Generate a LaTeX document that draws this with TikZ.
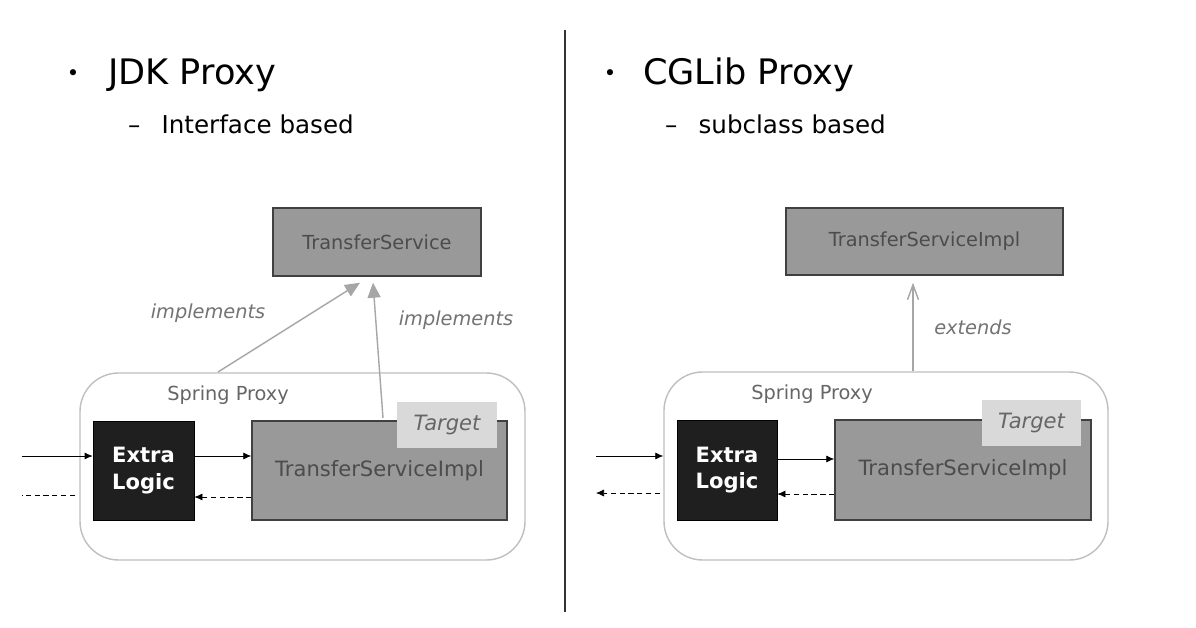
\documentclass[tikz,border=0pt]{standalone}
\usepackage{fontspec}
\setmainfont{DejaVu Sans}
\usetikzlibrary{arrows.meta}
\tikzstyle{classBox}=[draw=black!75, fill=black!40, thick, text=black!70, inner sep=0pt]
\tikzstyle{logicBox}=[draw=black, fill=black!88, text=white, inner sep=0pt, align=center, font=\bfseries\fontsize{12}{15}\selectfont]
\tikzstyle{proxyBox}=[draw=black!25, thick, rounded corners=22pt]
\tikzstyle{callFlow}=[thin, -{Latex[length=1.6mm,width=1.4mm]}]
\tikzstyle{returnFlow}=[thin, densely dashed, -{Latex[length=1.6mm,width=1.4mm]}]
\tikzstyle{umlFlow}=[black!35, thick, -{Triangle[open, length=3mm, width=2.6mm, fill=black!35]}]
\tikzstyle{umlOpen}=[black!35, thick, -{Straight Barb[length=3mm, width=2.2mm]}]
\tikzstyle{relLabel}=[text=black!55, font=\itshape\fontsize{11}{13}\selectfont]

\begin{document}
\begin{tikzpicture}[x=0.02cm, y=-0.02cm, font=\fontsize{11}{13}\selectfont]
  \useasboundingbox (0,0) rectangle (1196,628);
  \fill[white] (0,0) rectangle (1196,628);

  % Headings
  \node (jdkbullet) at (73,75) {\fontsize{12}{14}\selectfont\textbullet};
  \node [anchor=west, font=\fontsize{20}{24}\selectfont] (jdktitle) at (102,75) {JDK Proxy};
  \node [anchor=west, font=\fontsize{14}{17}\selectfont] (jdksub) at (122,124) {–\hspace{12pt}Interface based};
  \node (cglibbullet) at (610,75) {\fontsize{12}{14}\selectfont\textbullet};
  \node [anchor=west, font=\fontsize{20}{24}\selectfont] (cglibtitle) at (637,75) {CGLib Proxy};
  \node [anchor=west, font=\fontsize{14}{17}\selectfont] (cglibsub) at (659,124) {–\hspace{12pt}subclass based};

  \coordinate (divtop) at (565,30);
  \coordinate (divbot) at (565,612);
  \draw [black!80, thick] (divtop) -- (divbot);

  % JDK side
  \node [classBox, minimum width=208*0.02cm, minimum height=68*0.02cm] (iface) at (377,242) {TransferService};
  \node [proxyBox, minimum width=445*0.02cm, minimum height=187*0.02cm] (jdkproxy) at (302.5,466.5) {};
  \node [text=black!60] (jdkproxytext) at (228,395) {Spring Proxy};
  \node [logicBox, minimum width=101*0.02cm, minimum height=99*0.02cm] (jdklogic) at (143.5,470.5) {Extra\\Logic};
  \node [classBox, minimum width=255*0.02cm, minimum height=99*0.02cm, font=\fontsize{12}{14}\selectfont] (jdkimpl) at (379.5,470.5) {\raisebox{-6pt}{TransferServiceImpl}};
  \node [fill=black!15, text=black!60, minimum width=100*0.02cm, minimum height=46*0.02cm, inner sep=0pt, font=\itshape\fontsize{12}{14}\selectfont] (jdktarget) at (447,425) {Target};

  \coordinate (jdkin) at (22,456);
  \coordinate (jdkout) at (22,495);
  \coordinate (jdkoutend) at (75,495);
  \coordinate (jdkproxyedge) at (218,372);
  \coordinate (jdkimpltop) at (383,418);
  \draw[callFlow] (jdkin) -- (jdkin -| jdklogic.west);
  \draw[thin, densely dashed] (jdkoutend) -- (jdkout);
  \draw[callFlow] (jdklogic.east |- jdkin) -- (jdkin -| jdkimpl.west);
  \draw[returnFlow] ([yshift=-2*0.02cm]jdkoutend -| jdkimpl.west) -- ([yshift=-2*0.02cm]jdkoutend -| jdklogic.east);
  \draw[umlFlow] (jdkproxyedge) -- ([xshift=-17*0.02cm, yshift=-6*0.02cm]iface.south);
  \draw[umlFlow] (jdkimpltop) -- ([xshift=-4*0.02cm, yshift=-6*0.02cm]iface.south);
  \node [relLabel] (impl1) at (208,313) {implements};
  \node [relLabel] (impl2) at (456,320) {implements};

  % CGLib side
  \node [classBox, minimum width=277*0.02cm, minimum height=67*0.02cm] (superclass) at (924.5,241.5) {TransferServiceImpl};
  \node [proxyBox, minimum width=444*0.02cm, minimum height=188*0.02cm] (cgproxy) at (886,466) {};
  \node [text=black!60] (cgproxytext) at (812,394) {Spring Proxy};
  \node [logicBox, minimum width=100*0.02cm, minimum height=100*0.02cm] (cglogic) at (727,470) {Extra\\Logic};
  \node [classBox, minimum width=256*0.02cm, minimum height=100*0.02cm, font=\fontsize{12}{14}\selectfont] (cgimpl) at (963,470) {\raisebox{-6pt}{TransferServiceImpl}};
  \node [fill=black!15, text=black!60, minimum width=99*0.02cm, minimum height=46*0.02cm, inner sep=0pt, font=\itshape\fontsize{12}{14}\selectfont] (cgtarget) at (1031.5,423) {Target};

  \coordinate (cgin) at (596,456);
  \coordinate (cgout) at (596,493);
  \coordinate (cgoutstart) at (660,493);
  \draw[callFlow] (cgin) -- (cgin -| cgproxy.west);
  \draw[returnFlow] (cgoutstart) -- (cgout);
  \draw[callFlow] ([yshift=-3*0.02cm]cgin -| cglogic.east) -- ([yshift=-3*0.02cm]cgin -| cgimpl.west);
  \draw[returnFlow] ([yshift=-1*0.02cm]cgout -| cgimpl.west) -- ([yshift=-1*0.02cm]cgout -| cglogic.east);
  \draw[umlOpen] (cgproxy.north -| 913,0) -- ([yshift=-7*0.02cm]superclass.south -| 913,0);
  \node [relLabel] (extends) at (973,327) {extends};
\end{tikzpicture}
\end{document}
